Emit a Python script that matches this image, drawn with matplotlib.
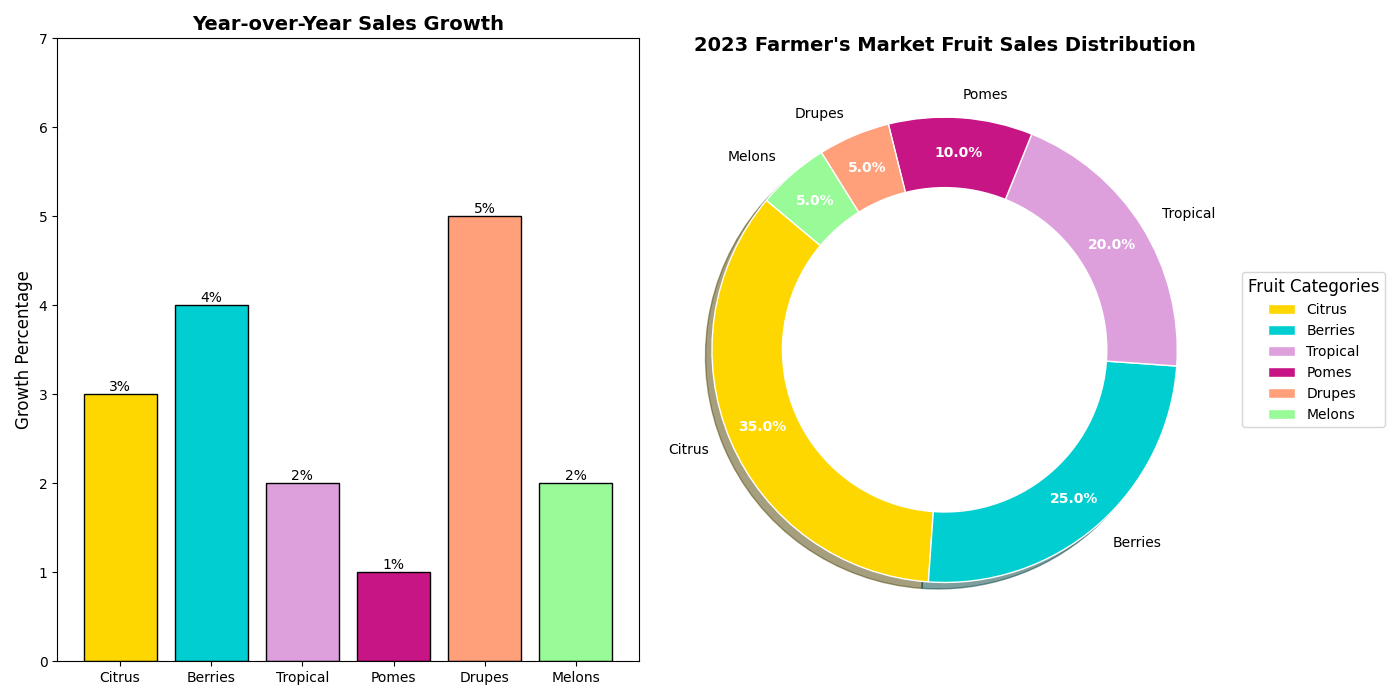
import matplotlib.pyplot as plt

categories = ["Citrus", "Berries", "Tropical", "Pomes", "Drupes", "Melons"]
sales_share = [35, 25, 20, 10, 5, 5]
growth = [3, 4, 2, 1, 5, 2]
colors = ["#FFD700", "#00CED1", "#DDA0DD", "#C71585", "#FFA07A", "#98FB98"]

fig, (ax1, ax2) = plt.subplots(1, 2, figsize=(14, 7))

# bar chart
bars = ax1.bar(categories, growth, color=colors, edgecolor="black")
for b, g in zip(bars, growth):
    ax1.text(b.get_x() + b.get_width() / 2, b.get_height(), f"{g}%",
             ha="center", va="bottom", fontsize=10)
ax1.set_ylim(0, 7)
ax1.set_ylabel("Growth Percentage", fontsize=12)
ax1.set_title("Year-over-Year Sales Growth", fontsize=14, fontweight="bold")

# donut
wedges, texts, autotexts = ax2.pie(
    sales_share, labels=categories, colors=colors, autopct="%1.1f%%",
    startangle=140, shadow=True, pctdistance=0.85, labeldistance=1.1,
    wedgeprops=dict(edgecolor="white"))
for t in autotexts:
    t.set_color("white")
    t.set_fontweight("bold")
ax2.add_artist(plt.Circle((0, 0), 0.70, fc="white"))
ax2.set_title("2023 Farmer's Market Fruit Sales Distribution", fontsize=14, fontweight="bold")
ax2.legend(wedges, categories, title="Fruit Categories", loc="center left",
           bbox_to_anchor=(1, 0, 0.5, 1), title_fontsize=12)

plt.tight_layout()
plt.savefig("out.png", dpi=100)
